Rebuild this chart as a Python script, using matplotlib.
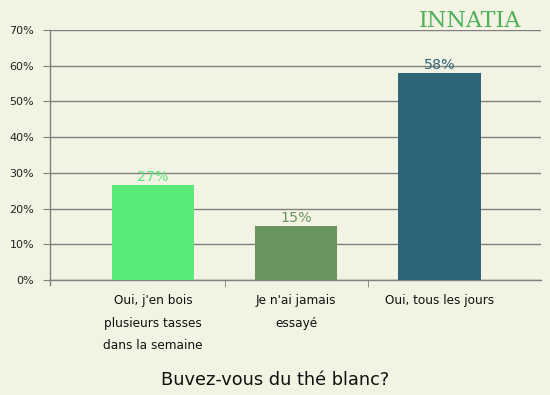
import matplotlib
matplotlib.use("Agg")
import matplotlib.pyplot as plt

categories = ["Oui, j'en bois\nplusieurs tasses\ndans la semaine", "Je n'ai jamais\nessayé", "Oui, tous les jours"]
values = [26.6, 15.1, 58.0]
value_labels = ["27%", "15%", "58%"]
colors = ["#5aea7a", "#6a955e", "#2c6678"]
yticks = [0, 10, 20, 30, 40, 50, 60, 70]
ytick_labels = ["0%", "10%", "20%", "30%", "40%", "50%", "60%", "70%"]
title = "Buvez-vous du thé blanc?"

bg = "#f3f3e3"
W, H = 550, 395
fig = plt.figure(figsize=(5.5, 3.95), dpi=100, facecolor=bg)
ax = fig.add_axes([50 / W, 1 - 280 / H, (541 - 50) / W, (280 - 30) / H], facecolor=bg)

x = list(range(len(categories)))
ax.bar(x, values, width=0.575, color=colors, zorder=3)
for xi, v, lab, c in zip(x, values, value_labels, colors):
    ax.text(xi, v + 0.2, lab, ha="center", va="bottom", fontsize=10.3, color=c, zorder=4)

ax.set_xlim(-0.72, 2.71)
ax.set_ylim(0, 70)
ax.set_yticks(yticks)
ax.set_yticklabels(ytick_labels, fontsize=8, color="#222222")
ax.yaxis.grid(True, color="#808080", linewidth=1, zorder=1)
ax.tick_params(axis="y", length=5, color="#808080", pad=6.5)

ax.set_xticks(x)
ax.set_xticklabels([])
ax.set_xticks([0.5, 1.5], minor=True)
ax.tick_params(axis="x", which="major", length=0)
ax.tick_params(axis="x", which="minor", length=5, color="#808080")
for xi, cat in zip(x, categories):
    ax.text(xi, -4.0, cat, ha="center", va="top", fontsize=8.7, color="#111111",
            linespacing=1.95, transform=ax.transData, clip_on=False)

for s in ["top", "right"]:
    ax.spines[s].set_visible(False)
for s in ["left", "bottom"]:
    ax.spines[s].set_color("#808080")
    ax.spines[s].set_linewidth(1)
ax.spines["left"].set_bounds(-1.5, 70)

fig.text(275 / W, 1 - 380 / H, title, ha="center", va="center", fontsize=12.8, color="#111111")

# logo
fig.text(470 / W, 1 - 21 / H, "INNATIA", ha="center", va="center", fontsize=16,
         color="#4fb05a", family="DejaVu Serif")

fig.savefig("out.png", dpi=100, facecolor=bg)
